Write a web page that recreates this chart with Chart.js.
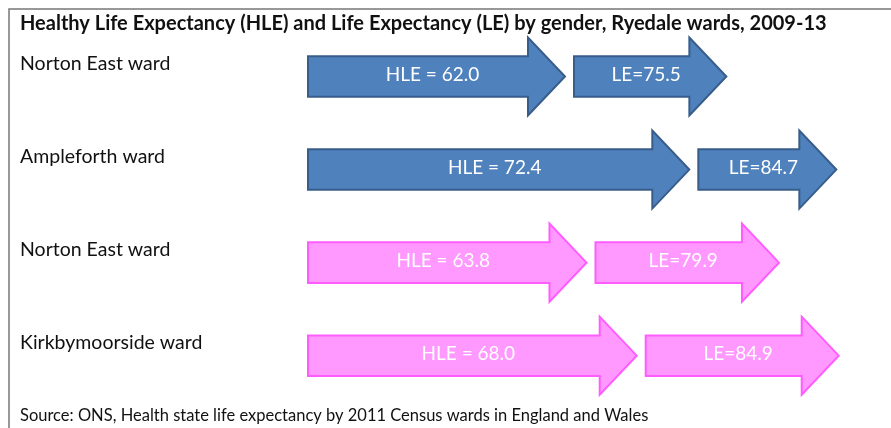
<!DOCTYPE html>
<html>
<head>
<meta charset="utf-8">
<script src="https://cdn.jsdelivr.net/npm/chart.js@4.4.1/dist/chart.umd.min.js"></script>
<style>
  html, body { margin: 0; padding: 0; background: #fff; }
  #wrap { width: 891px; height: 428px; }
</style>
</head>
<body>
<div id="wrap"><canvas id="hleChart" width="891" height="428"></canvas></div>
<script>
// data
const wards = ["Norton East ward", "Ampleforth ward", "Norton East ward", "Kirkbymoorside ward"];
const hle = [62.0, 72.4, 63.8, 68.0];
const le = [75.5, 84.7, 79.9, 84.9];
const ageMin = 40.5;
const ageMax = 87.6;

const blue = "#4f81bd";
const blueEdge = "#385d8a";
const pink = "#ff99ff";
const pinkEdge = "#ff5cff";
const rowFill = [blue, blue, pink, pink];
const rowEdge = [blueEdge, blueEdge, pinkEdge, pinkEdge];

// frame lines along top and left of the figure
const framePlugin = {
  id: "frame",
  beforeDraw(chart) {
    const ctx = chart.ctx;
    ctx.save();
    ctx.fillStyle = "#fff";
    ctx.fillRect(0, 0, chart.width, chart.height);
    ctx.strokeStyle = "#777";
    ctx.lineWidth = 1.5;
    ctx.beginPath();
    ctx.moveTo(chart.width, 9);
    ctx.lineTo(9, 9);
    ctx.lineTo(9, chart.height);
    ctx.stroke();
    ctx.restore();
  },
};

// draw each floating bar as a block arrow with its value inside
const arrowPlugin = {
  id: "arrows",
  beforeDatasetsDraw(chart) {
    const ctx = chart.ctx;
    chart.data.datasets.forEach((ds, di) => {
      const meta = chart.getDatasetMeta(di);
      meta.data.forEach((bar, i) => {
        const gap = di === 1 ? 9 : 0;
        const start = Math.min(bar.x, bar.base) + gap;
        const tip = Math.max(bar.x, bar.base);
        const cy = bar.y;
        const half = bar.height / 2;
        const body = bar.height * 0.26;
        const head = 37;

        ctx.save();
        ctx.beginPath();
        ctx.moveTo(start, cy - body);
        ctx.lineTo(tip - head, cy - body);
        ctx.lineTo(tip - head, cy - half);
        ctx.lineTo(tip, cy);
        ctx.lineTo(tip - head, cy + half);
        ctx.lineTo(tip - head, cy + body);
        ctx.lineTo(start, cy + body);
        ctx.closePath();
        ctx.fillStyle = bar.options.backgroundColor;
        ctx.fill();
        ctx.lineWidth = 2;
        ctx.strokeStyle = bar.options.borderColor;
        ctx.stroke();

        ctx.fillStyle = "#fff";
        ctx.font = "19px Lato";
        ctx.textAlign = "center";
        ctx.textBaseline = "middle";
        const text = di === 0 ? "HLE = " + hle[i].toFixed(1) : "LE=" + le[i].toFixed(1);
        ctx.fillText(text, (start + tip) / 2 - 4, cy - 2);
        ctx.restore();
      });
    });
    return false;
  },
};

new Chart(document.getElementById("hleChart"), {
  type: "bar",
  data: {
    labels: wards,
    datasets: [
      {
        label: "HLE",
        data: hle.map((v) => [ageMin, v]),
        backgroundColor: rowFill,
        borderColor: rowEdge,
        barThickness: 78,
        grouped: false,
      },
      {
        label: "LE",
        data: hle.map((v, i) => [v, le[i]]),
        backgroundColor: rowFill,
        borderColor: rowEdge,
        barThickness: 78,
        grouped: false,
      },
    ],
  },
  options: {
    indexAxis: "y",
    responsive: false,
    animation: false,
    layout: {
      padding: { left: 20, right: 20, top: 0, bottom: 0 },
    },
    plugins: {
      legend: { display: false },
      tooltip: { enabled: false },
      title: {
        display: true,
        text: "Healthy Life Expectancy (HLE) and Life Expectancy (LE) by gender, Ryedale wards, 2009-13",
        align: "start",
        color: "#111",
        font: { family: "Lato", size: 20, weight: "bold", lineHeight: 1.1 },
        padding: { top: 13, bottom: -5 },
      },
      subtitle: {
        display: true,
        position: "bottom",
        text: "Source: ONS, Health state life expectancy by 2011 Census wards in England and Wales",
        align: "start",
        color: "#111",
        font: { family: "Lato", size: 16.5, lineHeight: 1.2 },
        padding: { top: 4, bottom: 2 },
      },
    },
    scales: {
      x: {
        display: false,
        min: ageMin,
        max: ageMax,
      },
      y: {
        grid: { display: false },
        border: { display: false },
        afterFit: (scale) => {
          scale.width = 288;
        },
        ticks: {
          crossAlign: "far",
          labelOffset: -13,
          color: "#111",
          font: { family: "Lato", size: 19.5 },
        },
      },
    },
  },
  plugins: [framePlugin, arrowPlugin],
});
</script>
</body>
</html>
